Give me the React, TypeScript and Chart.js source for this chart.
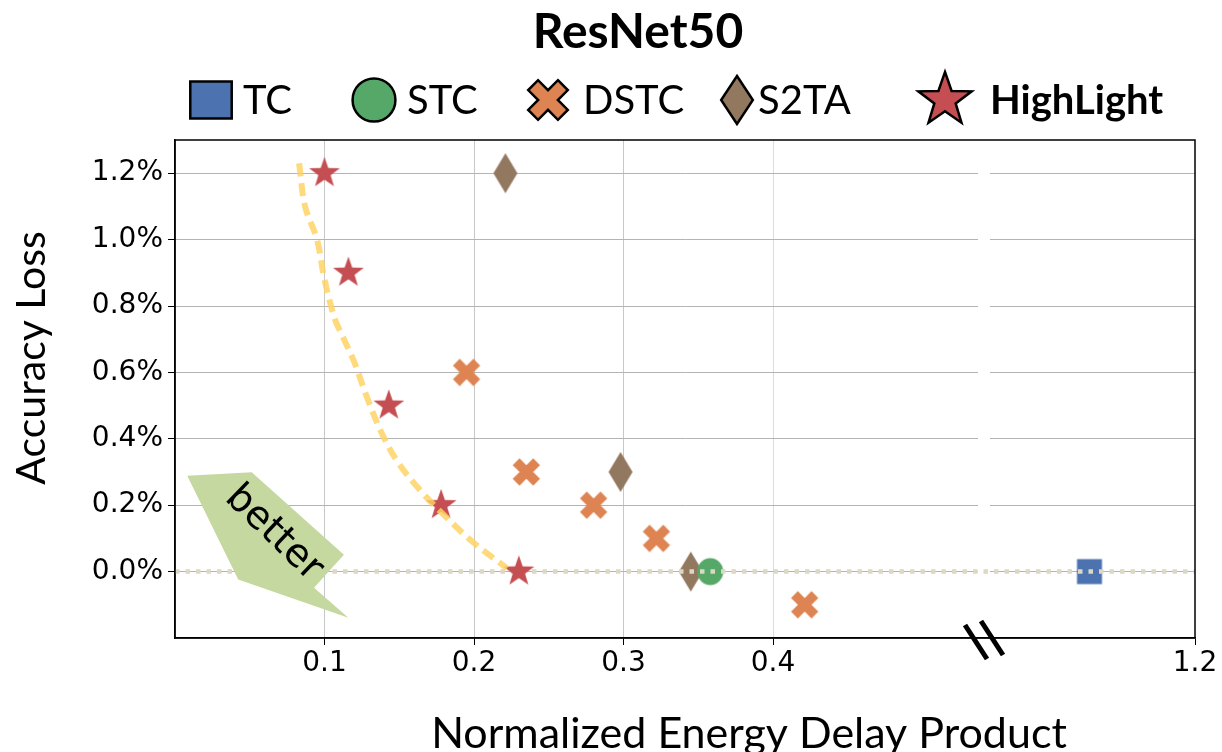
import React, { useEffect, useRef } from "react";
import { Chart, registerables, LinearScale } from "chart.js";

Chart.register(...registerables);

// ---------------- data ----------------
const TITLE = "ResNet50";
const X_TITLE = "Normalized Energy Delay Product";
const Y_TITLE = "Accuracy Loss";
const BETTER_TEXT = "better";
const LEGEND_LABELS = ["TC", "STC", "DSTC", "S2TA", "HighLight"];

const X_TICKS = [0.1, 0.2, 0.3, 0.4, 1.2];
const Y_TICKS = [0.0, 0.2, 0.4, 0.6, 0.8, 1.0, 1.2];

const TC_X = [1.0];
const TC_Y = [0.0];
const STC_X = [0.358];
const STC_Y = [0.0];
const DSTC_X = [0.195, 0.235, 0.28, 0.322, 0.46];
const DSTC_Y = [0.6, 0.3, 0.2, 0.1, -0.1];
const S2TA_X = [0.221, 0.298, 0.345];
const S2TA_Y = [1.2, 0.3, 0.0];
const HL_X = [0.1, 0.116, 0.143, 0.178, 0.23];
const HL_Y = [1.2, 0.9, 0.5, 0.2, 0.0];

// pareto front (dashed yellow curve)
const FRONT_X = [0.083, 0.087, 0.095, 0.1, 0.107, 0.112, 0.12, 0.128, 0.138, 0.149, 0.165, 0.18, 0.199, 0.222];
const FRONT_Y = [1.23, 1.1, 1.0, 0.88, 0.76, 0.71, 0.63, 0.53, 0.42, 0.33, 0.24, 0.17, 0.09, 0.01];

// zero reference line
const ZERO_X = [0.0, 1.2];
const ZERO_Y = [0.0, 0.0];

// "better" arrow polygon (data coordinates)
const ARROW_X = [0.0082, 0.0513, 0.113, 0.093, 0.116, 0.0423];
const ARROW_Y = [0.289, 0.299, 0.051, -0.049, -0.139, -0.024];
const BETTER_POS = [0.066, 0.115];

// axis ranges / break
const X_MIN = 0;
const X_MAX = 1.2;
const X_BREAK = 0.4;
const X_BREAK_MARK = 0.8;
const Y_MIN = -0.2;
const Y_MAX = 1.3;

// ---------------- colours ----------------
const C_TC = "#4C72B0";
const C_STC = "#55A868";
const C_DSTC = "#DD8452";
const C_S2TA = "#937860";
const C_HL = "#C44E52";

const BREAK_FRAC = 598 / 1020;

class BrokenLinearScale extends LinearScale {
  static id = "brokenLinear";
  static defaults = {};
  getPixelForValue(value: any) {
    if (value === null || value === undefined || isNaN(value)) return NaN;
    const min = this.min;
    const max = this.max;
    let dec;
    if (value <= X_BREAK) dec = ((value - min) / (X_BREAK - min)) * BREAK_FRAC;
    else dec = BREAK_FRAC + ((value - X_BREAK) / (max - X_BREAK)) * (1 - BREAK_FRAC);
    return this.getPixelForDecimal(dec);
  }
  getValueForPixel(pixel: number) {
    const dec = this.getDecimalForPixel(pixel);
    if (dec <= BREAK_FRAC) return this.min + (dec / BREAK_FRAC) * (X_BREAK - this.min);
    return X_BREAK + ((dec - BREAK_FRAC) / (1 - BREAK_FRAC)) * (this.max - X_BREAK);
  }
}
Chart.register(BrokenLinearScale as any);

type Kind = "square" | "circle" | "x" | "diamond" | "star";

const HALF_EXT: Record<Kind, number> = {
  square: 12.5,
  circle: 13.5,
  x: 14,
  diamond: 20,
  star: 17,
};

function tracePath(ctx: CanvasRenderingContext2D, kind: Kind, s: number, sx = 1) {
  ctx.beginPath();
  if (kind === "square") {
    const h = 12.5 * s;
    ctx.rect(-h * sx, -h, 2 * h * sx, 2 * h);
  } else if (kind === "circle") {
    ctx.ellipse(0, 0, 13 * s * sx, 13.5 * s, 0, 0, Math.PI * 2);
  } else if (kind === "diamond") {
    const w = 12 * s * sx;
    const h = 20 * s;
    ctx.moveTo(0, -h);
    ctx.lineTo(w, 0);
    ctx.lineTo(0, h);
    ctx.lineTo(-w, 0);
    ctx.closePath();
  } else if (kind === "x") {
    const a = 14.5 * s;
    const b = 4.8 * s;
    const pts = [
      [-b, -a], [b, -a], [b, -b], [a, -b], [a, b], [b, b],
      [b, a], [-b, a], [-b, b], [-a, b], [-a, -b], [-b, -b],
    ];
    pts.forEach(([x, y], i) => {
      const xr = ((x - y) / Math.SQRT2) * sx;
      const yr = (x + y) / Math.SQRT2;
      if (i === 0) ctx.moveTo(xr, yr);
      else ctx.lineTo(xr, yr);
    });
    ctx.closePath();
  } else {
    const R = 17 * s;
    const r = R * 0.4;
    for (let i = 0; i < 10; i++) {
      const ang = -Math.PI / 2 + (i * Math.PI) / 5;
      const rr = i % 2 === 0 ? R : r;
      const x = Math.cos(ang) * rr * sx;
      const y = Math.sin(ang) * rr;
      if (i === 0) ctx.moveTo(x, y);
      else ctx.lineTo(x, y);
    }
    ctx.closePath();
  }
}

function makeMarker(kind: Kind, fill: string, s: number, edge: number, sx = 1): HTMLCanvasElement {
  const c = document.createElement("canvas");
  const half = Math.ceil(HALF_EXT[kind] * s * Math.max(1, sx) + edge + 2);
  c.width = half * 2;
  c.height = half * 2;
  const ctx = c.getContext("2d")!;
  ctx.translate(half, half);
  tracePath(ctx, kind, s, sx);
  ctx.fillStyle = fill;
  ctx.fill();
  if (edge > 0) {
    ctx.lineWidth = edge;
    ctx.strokeStyle = "#000";
    ctx.lineJoin = "miter";
    ctx.stroke();
  }
  return c;
}

const pts = (xs: number[], ys: number[]) => xs.map((x, i) => ({ x, y: ys[i] }));

export default function App() {
  const ref = useRef<HTMLCanvasElement>(null);

  useEffect(() => {
    const canvas = ref.current;
    if (!canvas) return;

    const mTC = makeMarker("square", C_TC, 1, 0);
    const mSTC = makeMarker("circle", C_STC, 1, 0);
    const mDSTC = makeMarker("x", C_DSTC, 1, 0);
    const mS2TA = makeMarker("diamond", C_S2TA, 1, 0);
    const mHL = makeMarker("star", C_HL, 0.95, 0);

    const legendMarkers = [
      makeMarker("square", C_TC, 1.48, 2.5, 1.12),
      makeMarker("circle", C_STC, 1.6, 2.5, 1.03),
      makeMarker("x", C_DSTC, 1.45, 2.5),
      makeMarker("diamond", C_S2TA, 1.2, 2.5, 1.1),
      makeMarker("star", C_HL, 1.65, 2.5),
    ];
    const legendMarkerX = [211, 374, 548, 737, 945];
    const legendTextX = [243, 407, 583, 758, 990];

    const decor = {
      id: "decor",
      beforeDatasetsDraw(chart: any) {
        const { ctx, chartArea } = chart;
        const xs = chart.scales.x;
        const bx = xs.getPixelForValue(X_BREAK_MARK);
        ctx.save();
        ctx.fillStyle = "#fff";
        ctx.fillRect(bx - 6, chartArea.top + 2, 12, chartArea.bottom - chartArea.top - 4);
        ctx.restore();
      },
      afterDatasetsDraw(chart: any) {
        const { ctx } = chart;
        const xs = chart.scales.x;
        const ys = chart.scales.y;
        ctx.save();
        ctx.beginPath();
        ARROW_X.forEach((x, i) => {
          const px = xs.getPixelForValue(x);
          const py = ys.getPixelForValue(ARROW_Y[i]);
          if (i === 0) ctx.moveTo(px, py);
          else ctx.lineTo(px, py);
        });
        ctx.closePath();
        ctx.fillStyle = "#C4D8A0";
        ctx.fill();
        const tx = xs.getPixelForValue(BETTER_POS[0]);
        const ty = ys.getPixelForValue(BETTER_POS[1]);
        ctx.translate(tx, ty);
        ctx.rotate((44 * Math.PI) / 180);
        ctx.font = "39px 'DejaVu Sans'";
        ctx.fillStyle = "#000";
        ctx.textAlign = "center";
        ctx.textBaseline = "middle";
        ctx.fillText(BETTER_TEXT, 0, 0);
        ctx.restore();
      },
      afterDraw(chart: any) {
        const { ctx, chartArea } = chart;
        const xs = chart.scales.x;
        ctx.save();
        // frame
        ctx.strokeStyle = "#000";
        ctx.lineWidth = 1.5;
        ctx.strokeRect(chartArea.left, chartArea.top, chartArea.right - chartArea.left, chartArea.bottom - chartArea.top);
        // break mark
        const bx = xs.getPixelForValue(X_BREAK_MARK);
        const by = chartArea.bottom + 1;
        ctx.lineWidth = 5;
        ctx.lineCap = "butt";
        [[-8, 3], [8, -1]].forEach(([dx, dy]) => {
          ctx.beginPath();
          ctx.moveTo(bx + dx - 11, by + dy - 17);
          ctx.lineTo(bx + dx + 11, by + dy + 17);
          ctx.stroke();
        });
        // title
        ctx.fillStyle = "#000";
        ctx.textAlign = "center";
        ctx.textBaseline = "middle";
        ctx.font = "bold 48px Lato";
        ctx.fillText(TITLE, 638, 33);
        // legend
        LEGEND_LABELS.forEach((lab, i) => {
          const m = legendMarkers[i];
          ctx.drawImage(m, legendMarkerX[i] - m.width / 2, 100 - m.height / 2);
          ctx.font = (i === 4 ? "bold " : "") + "40px Lato";
          ctx.textAlign = "left";
          ctx.textBaseline = "middle";
          ctx.fillText(lab, legendTextX[i], 101);
        });
        // x title
        ctx.font = "43px Lato";
        ctx.textAlign = "center";
        ctx.textBaseline = "alphabetic";
        ctx.fillText(X_TITLE, 749, 748);
        // y title
        ctx.font = "41px Lato";
        ctx.translate(32, 358);
        ctx.rotate(-Math.PI / 2);
        ctx.textBaseline = "middle";
        ctx.fillText(Y_TITLE, 0, 0);
        ctx.restore();
      },
    };

    const tickFont = { family: "'DejaVu Sans'", size: 28 };

    const chart = new Chart(canvas, {
      type: "scatter",
      data: {
        datasets: [
          {
            label: "front",
            data: pts(FRONT_X, FRONT_Y),
            showLine: true,
            borderColor: "rgba(255, 210, 95, 0.82)",
            borderWidth: 6,
            borderDash: [13, 7],
            pointRadius: 0,
            tension: 0.35,
            order: -1,
          } as any,
          {
            label: "HighLight",
            data: pts(HL_X, HL_Y),
            pointStyle: mHL,
            pointRadius: 12,
            order: 0,
          },
          {
            label: "zero",
            data: pts(ZERO_X, ZERO_Y),
            showLine: true,
            borderColor: "#DDD8C3",
            borderWidth: 4.5,
            borderDash: [4.5, 6],
            pointRadius: 0,
            order: 1,
          },
          { label: "TC", data: pts(TC_X, TC_Y), pointStyle: mTC, pointRadius: 12, order: 2 },
          { label: "STC", data: pts(STC_X, STC_Y), pointStyle: mSTC, pointRadius: 12, order: 2 },
          { label: "DSTC", data: pts(DSTC_X, DSTC_Y), pointStyle: mDSTC, pointRadius: 12, order: 2 },
          { label: "S2TA", data: pts(S2TA_X, S2TA_Y), pointStyle: mS2TA, pointRadius: 12, order: 2 },
        ],
      },
      options: {
        responsive: false,
        animation: false,
        layout: { padding: { top: 140, right: 27, left: 0, bottom: 0 } },
        plugins: {
          legend: { display: false },
          title: { display: false },
          tooltip: { enabled: false },
        },
        scales: {
          x: {
            type: "brokenLinear" as any,
            min: X_MIN,
            max: X_MAX,
            afterBuildTicks: (s: any) => {
              s.ticks = X_TICKS.map((v) => ({ value: v }));
            },
            afterFit: (s: any) => {
              s.height = 752 - 638;
            },
            ticks: {
              font: tickFont,
              color: "#000",
              autoSkip: false,
              maxRotation: 0,
              padding: 2,
              callback: (v: any) => Number(v).toFixed(1),
            },
            grid: {
              color: (c: any) =>
                c.tick && c.tick.value === X_MAX ? "rgba(0,0,0,0)" : c.tick && c.tick.value === X_BREAK ? "#dcdcdc" : "#c8c8c8",
              tickLength: 7,
              tickColor: "#000",
            },
            border: { color: "#000", width: 1.5 },
          } as any,
          y: {
            type: "linear",
            min: Y_MIN,
            max: Y_MAX,
            afterBuildTicks: (s: any) => {
              s.ticks = Y_TICKS.map((v) => ({ value: v }));
            },
            afterFit: (s: any) => {
              s.width = 175;
            },
            ticks: {
              font: tickFont,
              color: "#000",
              padding: 5,
              callback: (v: any) => Number(v).toFixed(1) + "%",
            },
            grid: { color: "#b4b4b4", tickLength: 7, tickColor: "#000" },
            border: { color: "#000", width: 1.5 },
          },
        },
      },
      plugins: [decor],
    });

    return () => chart.destroy();
  }, []);

  return (
    <div style={{ position: "absolute", left: 0, top: 0, width: 1222, height: 752, background: "#fff" }}>
      <canvas ref={ref} width={1222} height={752} style={{ display: "block" }} />
    </div>
  );
}
